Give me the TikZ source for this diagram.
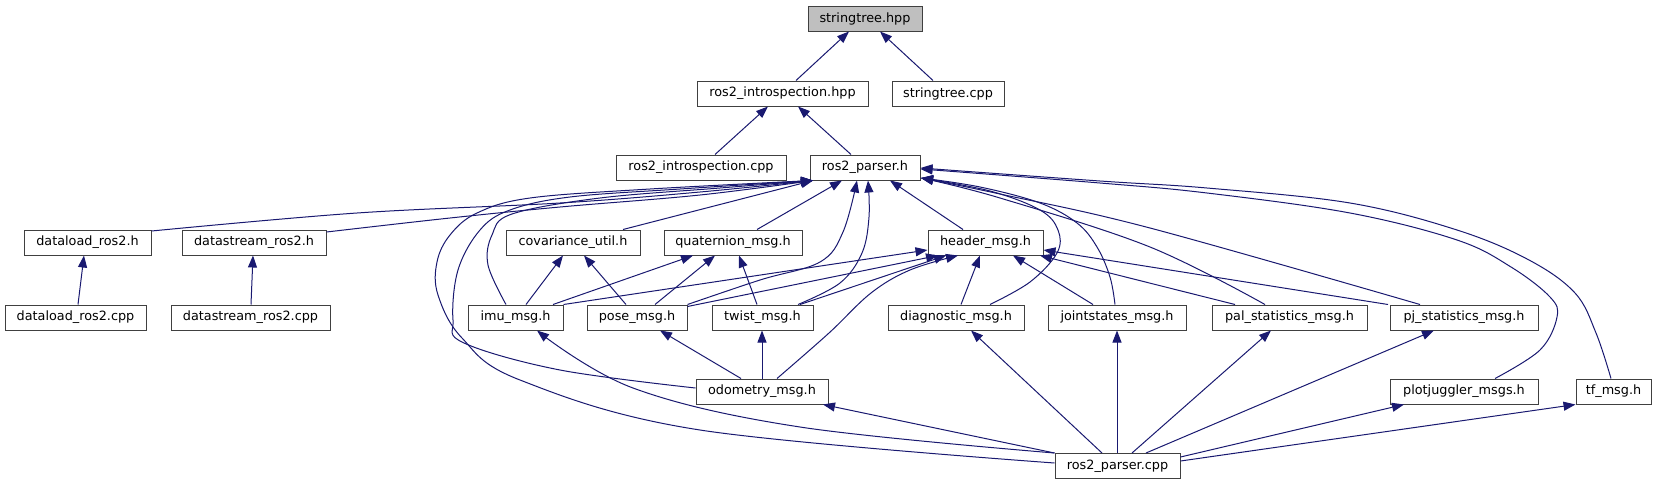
\documentclass[tikz,border=0pt]{standalone}
\usepackage{fontspec}
\setmainfont{DejaVu Sans}
\usetikzlibrary{arrows.meta}
\definecolor{edgec}{HTML}{191970}
\definecolor{boxc}{HTML}{404040}
\definecolor{rootc}{HTML}{BFBFBF}
\begin{document}
\begin{tikzpicture}[x=1pt,y=-1pt,
  box/.style={draw=boxc, line width=1pt, fill=white, minimum height=25pt, inner sep=0pt,
              font=\fontsize{12.8}{15}\selectfont, anchor=center},
  dep/.style={draw=edgec, line width=1pt, -{Triangle[length=12pt,width=9pt]}},
  sm/.style={smooth, tension=0.6}
]
\useasboundingbox (0,0) rectangle (1655,485);

% nodes
\node[box, minimum width=114pt, fill=rootc] (sthpp) at (865,18.5) {stringtree.hpp};
\node[box, minimum width=171pt] (rihpp) at (782.5,93.5) {ros2\_introspection.hpp};
\node[box, minimum width=112pt] (stcpp) at (948,93.5) {stringtree.cpp};
\node[box, minimum width=170pt] (ricpp) at (701,167.5) {ros2\_introspection.cpp};
\node[box, minimum width=110pt] (rph) at (865,167.5) {ros2\_parser.h};
\node[box, minimum width=127pt] (dlh) at (87.5,242.5) {dataload\_ros2.h};
\node[box, minimum width=144pt] (dsh) at (254,242.5) {datastream\_ros2.h};
\node[box, minimum width=134pt] (cov) at (573,242.5) {covariance\_util.h};
\node[box, minimum width=138pt] (quat) at (733,242.5) {quaternion\_msg.h};
\node[box, minimum width=115pt] (hdr) at (985.5,242.5) {header\_msg.h};
\node[box, minimum width=141pt] (dlcpp) at (75.5,317.5) {dataload\_ros2.cpp};
\node[box, minimum width=159pt] (dscpp) at (250.5,317.5) {datastream\_ros2.cpp};
\node[box, minimum width=95pt] (imu) at (515.5,317.5) {imu\_msg.h};
\node[box, minimum width=100pt] (pose) at (637,317.5) {pose\_msg.h};
\node[box, minimum width=101pt] (twist) at (762.5,317.5) {twist\_msg.h};
\node[box, minimum width=136pt] (diag) at (956,317.5) {diagnostic\_msg.h};
\node[box, minimum width=138pt] (joint) at (1117,317.5) {jointstates\_msg.h};
\node[box, minimum width=155pt] (pal) at (1289.5,317.5) {pal\_statistics\_msg.h};
\node[box, minimum width=148pt] (pj) at (1464,317.5) {pj\_statistics\_msg.h};
\node[box, minimum width=132pt] (odom) at (762,391.5) {odometry\_msg.h};
\node[box, minimum width=148pt] (pjm) at (1464,391.5) {plotjuggler\_msgs.h};
\node[box, minimum width=75pt] (tf) at (1613.5,391.5) {tf\_msg.h};
\node[box, minimum width=125pt] (rpcpp) at (1117.5,466) {ros2\_parser.cpp};

% top levels
\draw[dep] (796,0 |- rihpp.north) -- (849,0 |- sthpp.south);
\draw[dep] (933,0 |- stcpp.north) -- (880,0 |- sthpp.south);
\draw[dep] (715,0 |- ricpp.north) -- (768,0 |- rihpp.south);
\draw[dep] (851,0 |- rph.north) -- (798,0 |- rihpp.south);
\draw[dep] (78,0 |- dlcpp.north) -- (84,0 |- dlh.south);
\draw[dep] (251,0 |- dscpp.north) -- (253,0 |- dsh.south);

% into ros2_parser.h from left
\draw[dep] plot[sm] coordinates {(dlh.east |- 0,231) (357,213) (560,203) (700,192) (813,0 |- rph.south)};
\draw[dep] plot[sm] coordinates {(dsh.east |- 0,232) (450,218) (560,207) (700,195) (813,0 |- rph.south)};
\draw[dep] plot[sm] coordinates {(506,0 |- imu.north) (488,265) (492,235) (512,214) (600,198) (720,188) (813,0 |- rph.south)};
\draw[dep] plot[sm] coordinates {(odom.west |- 0,388) (560,370) (464,343) (453,320) (458,270) (480,230) (510,210) (570,197) (680,189) (813,0 |- rph.south)};
\draw[dep] plot[sm] coordinates {(rpcpp.west |- 0,463) (700,430) (520,380) (462,338) (438,295) (437,262) (450,235) (477,213) (530,198) (650,189) (813,0 |- rph.south)};
\draw[dep] (623,0 |- cov.north) -- (813,0 |- rph.south);
\draw[dep] (757,0 |- quat.north) -- (842,0 |- rph.south);
\draw[dep] plot[sm] coordinates {(pose.north east) (760,280) (820,262) (843,232) (857,0 |- rph.south)};
\draw[dep] plot[sm] coordinates {(798,0 |- twist.north) (840,283) (862,253) (869,217) (868,0 |- rph.south)};
\draw[dep] (963,0 |- hdr.north) -- (890,0 |- rph.south);

% into ros2_parser.h from right
\draw[dep] plot[sm] coordinates {(990,0 |- diag.north) (1030,282) (1057,253) (1058,230) (1040,210) (990,191) (921,178)};
\draw[dep] plot[sm] coordinates {(1115,0 |- joint.north) (1110,277) (1097,247) (1077,223) (1040,203) (980,187) (921,178)};
\draw[dep] plot[sm] coordinates {(1265,0 |- pal.north) (1150,247) (1000,198) (921,178)};
\draw[dep] plot[sm] coordinates {(1420,0 |- pj.north) (1150,228) (1000,194) (921,178)};
\draw[dep] plot[sm] coordinates {(1495,0 |- pjm.north) (1540,350) (1557,317) (1550,297) (1511,267) (1457,240) (1350,213) (1207,193) (1100,183) (rph.east |- 0,169)};
\draw[dep] plot[sm] coordinates {(1611,0 |- tf.north) (1596,333) (1575,293) (1529,260) (1457,230) (1350,203) (1207,188) (1100,181) (rph.east |- 0,168)};

% into header_msg.h
\draw[dep] (imu.north east) -- (hdr.west |- 0,250);
\draw[dep] ([yshift=-2pt]pose.north east) -- (938,0 |- hdr.south);
\draw[dep] (800,0 |- twist.north) -- (946,0 |- hdr.south);
\draw[dep] plot[sm] coordinates {(777,0 |- odom.north) (829,333) (871,293) (910,270) (958,0 |- hdr.south)};
\draw[dep] (961,0 |- diag.north) -- (980,0 |- hdr.south);
\draw[dep] (1093,0 |- joint.north) -- (1013,0 |- hdr.south);
\draw[dep] (1235,0 |- pal.north) -- (1040,0 |- hdr.south);
\draw[dep] (1388,0 |- pj.north) -- (hdr.east |- 0,250);

% into quaternion_msg.h
\draw[dep] (553,0 |- imu.north) -- (693,0 |- quat.south);
\draw[dep] (655,0 |- pose.north) -- (715,0 |- quat.south);
\draw[dep] (757,0 |- twist.north) -- (739,0 |- quat.south);

% into covariance_util.h
\draw[dep] (526,0 |- imu.north) -- (563,0 |- cov.south);
\draw[dep] (626,0 |- pose.north) -- (584,0 |- cov.south);

% into odometry parents
\draw[dep] (741,0 |- odom.north) -- (660,0 |- pose.south);
\draw[dep] (762,0 |- odom.north) -- (762,0 |- twist.south);

% from ros2_parser.cpp
\draw[dep] plot[sm] coordinates {(rpcpp.north west) (800,427) (633,388) (537,0 |- imu.south)};
\draw[dep] (rpcpp.north west) -- (823,0 |- odom.south);
\draw[dep] (1102,0 |- rpcpp.north) -- (971,0 |- diag.south);
\draw[dep] (1117,0 |- rpcpp.north) -- (1117,0 |- joint.south);
\draw[dep] (1132,0 |- rpcpp.north) -- (1271,0 |- pal.south);
\draw[dep] (1146,0 |- rpcpp.north) -- (1434,0 |- pj.south);
\draw[dep] (rpcpp.east |- 0,457) -- (1404,0 |- pjm.south);
\draw[dep] (rpcpp.east |- 0,461) -- (tf.south west);
\end{tikzpicture}
\end{document}
